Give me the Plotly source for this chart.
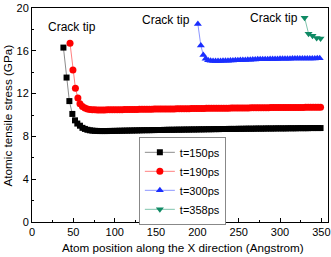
import plotly.graph_objects as go

# ---- data ----
x150 = [38, 41.8, 45.2, 48.8, 52, 54.8, 58, 61, 64, 67, 70, 73,
        76, 79, 82, 85, 88, 91, 94, 97, 100,
        103, 106, 109, 112, 115, 118, 121, 124, 127, 130, 133, 136, 139, 142, 145, 148, 151,
        154, 157, 160, 163, 166, 169, 172, 175, 178, 181, 184, 187, 190, 193, 196, 199,
        202, 205, 208, 211, 214, 217, 220, 223, 226, 229, 232, 235, 238, 241, 244, 247,
        250, 253, 256, 259, 262, 265, 268, 271, 274, 277, 280, 283, 286, 289, 292, 295, 298, 301,
        304, 307, 310, 313, 316, 319, 322, 325, 328, 331, 334, 337, 340, 343, 346, 349]
y150 = [16.3, 13.5, 11.3, 10.1, 9.5, 9.2, 9.0, 8.8, 8.7, 8.62, 8.57, 8.54,
        8.52, 8.51, 8.5, 8.5, 8.5, 8.5, 8.51, 8.51, 8.52,
        8.52, 8.53, 8.53, 8.54, 8.54, 8.55, 8.55, 8.56, 8.56, 8.57, 8.57, 8.58, 8.58, 8.58, 8.59, 8.59, 8.6,
        8.6, 8.6, 8.61, 8.61, 8.62, 8.62, 8.62, 8.63, 8.63, 8.63, 8.64, 8.64, 8.64, 8.65, 8.65, 8.65,
        8.66, 8.66, 8.66, 8.67, 8.67, 8.67, 8.68, 8.68, 8.68, 8.69, 8.69, 8.69, 8.7, 8.7, 8.7, 8.7,
        8.71, 8.71, 8.71, 8.72, 8.72, 8.72, 8.72, 8.73, 8.73, 8.73, 8.73, 8.74, 8.74, 8.74, 8.74, 8.75, 8.75, 8.75,
        8.75, 8.75, 8.76, 8.76, 8.76, 8.76, 8.77, 8.77, 8.77, 8.77, 8.77, 8.78, 8.78, 8.78, 8.78, 8.78]

x190 = [46, 49.5, 52.5, 55.5, 58, 61, 64, 67, 70, 73,
        76, 79, 82, 85, 88, 91, 94, 97, 100,
        103, 106, 109, 112, 115, 118, 121, 124, 127, 130, 133, 136, 139, 142, 145, 148, 151,
        154, 157, 160, 163, 166, 169, 172, 175, 178, 181, 184, 187, 190, 193, 196, 199,
        202, 205, 208, 211, 214, 217, 220, 223, 226, 229, 232, 235, 238, 241, 244, 247,
        250, 253, 256, 259, 262, 265, 268, 271, 274, 277, 280, 283, 286, 289, 292, 295, 298, 301,
        304, 307, 310, 313, 316, 319, 322, 325, 328, 331, 334, 337, 340, 343, 346, 349]
y190 = [16.7, 14.2, 12.5, 11.6, 11.05, 10.8, 10.65, 10.57, 10.52, 10.5,
        10.48, 10.47, 10.47, 10.47, 10.47, 10.48, 10.48, 10.49, 10.49,
        10.5, 10.5, 10.5, 10.51, 10.51, 10.51, 10.52, 10.52, 10.52, 10.53, 10.53, 10.53, 10.54, 10.54, 10.54, 10.55, 10.55,
        10.55, 10.56, 10.56, 10.56, 10.57, 10.57, 10.57, 10.58, 10.58, 10.58, 10.59, 10.59, 10.59, 10.6, 10.6, 10.6,
        10.61, 10.61, 10.61, 10.62, 10.62, 10.62, 10.63, 10.63, 10.63, 10.64, 10.64, 10.64, 10.64, 10.65, 10.65, 10.65,
        10.65, 10.66, 10.66, 10.66, 10.66, 10.67, 10.67, 10.67, 10.67, 10.68, 10.68, 10.68, 10.68, 10.69, 10.69, 10.69, 10.69, 10.7,
        10.7, 10.7, 10.7, 10.7, 10.71, 10.71, 10.71, 10.71, 10.71, 10.72, 10.72, 10.72, 10.72, 10.72, 10.72, 10.72]

x300 = [200.6, 204.2, 207.2, 210,
        213, 216, 219, 222, 225, 228, 231, 234, 237, 240, 243,
        246, 249, 252, 255, 258, 261, 264, 267, 270, 273, 276, 279, 282, 285, 288, 291, 294,
        297, 300, 303, 306, 309, 312, 315, 318, 321, 324, 327, 330, 333, 336, 339, 342, 345, 348]
y300 = [18.5, 16.5, 15.6, 15.25,
        15.12, 15.07, 15.05, 15.04, 15.04, 15.05, 15.06, 15.07, 15.08, 15.09, 15.1,
        15.11, 15.12, 15.13, 15.14, 15.15, 15.16, 15.17, 15.18, 15.19, 15.2, 15.2, 15.21, 15.22, 15.22, 15.23, 15.23, 15.24,
        15.24, 15.25, 15.25, 15.26, 15.26, 15.26, 15.27, 15.27, 15.27, 15.28, 15.28, 15.28, 15.28, 15.29, 15.29, 15.29, 15.3, 15.3]

x358 = [329.7, 334.5, 339.3, 344.3, 349]
y358 = [19.1, 17.6, 17.4, 17.2, 17.15]

series_names = ["t=150ps", "t=190ps", "t=300ps", "t=358ps"]
annot_text = "Crack tip"
annot_x = [48.4, 162.3, 292.7]
annot_y = [18.2, 18.85, 19.05]
x_ticks = [0, 50, 100, 150, 200, 250, 300, 350]
x_minor = [25, 75, 125, 175, 225, 275, 325]
y_ticks = [0, 4, 8, 12, 16, 20]
y_minor = [2, 6, 10, 14, 18]
x_title = "Atom position along the X direction (Angstrom)"
y_title = "Atomic tensile stress (GPa)"

FONT = "Liberation Sans, Arial, sans-serif"

styles = [
    dict(symbol="square", color="#000000", line="#8c8c8c", size=6),
    dict(symbol="circle", color="#ff0000", line="#ff8080", size=7),
    dict(symbol="triangle-up", color="#1a2eff", line="#8c96ff", size=7),
    dict(symbol="triangle-down", color="#0f8a64", line="#80c4ad", size=7),
]

fig = go.Figure()
for name, xs, ys, st in zip(series_names, [x150, x190, x300, x358], [y150, y190, y300, y358], styles):
    fig.add_trace(go.Scatter(
        x=xs, y=ys, name=name, mode="lines+markers",
        line=dict(color=st["line"], width=1),
        marker=dict(symbol=st["symbol"], color=st["color"], size=st["size"], line=dict(width=0)),
    ))

for ax, ay in zip(annot_x, annot_y):
    fig.add_annotation(x=ax, y=ay, text=annot_text, showarrow=False,
                       font=dict(family=FONT, size=12, color="#000"))

# axis titles
fig.add_annotation(xref="paper", yref="paper", x=0.51, y=-0.12, text=x_title, showarrow=False,
                   xanchor="center", yanchor="middle", font=dict(family=FONT, size=11.7, color="#000"))
fig.add_annotation(xref="paper", yref="paper", x=-0.083, y=0.5, text=y_title, showarrow=False,
                   textangle=-90, xanchor="center", yanchor="middle",
                   font=dict(family=FONT, size=11.7, color="#000"))

axis_common = dict(showline=True, linecolor="#000", linewidth=1, mirror=True, automargin=False,
                   ticks="inside", ticklen=4, tickcolor="#000", showgrid=False, zeroline=False,
                   tickfont=dict(family=FONT, size=11, color="#000"))

fig.update_xaxes(range=[0, 358], tickvals=x_ticks,
                 minor=dict(tickvals=x_minor, ticks="inside", ticklen=2, tickcolor="#000"),
                 **axis_common)
fig.update_yaxes(range=[0, 20], tickvals=y_ticks,
                 minor=dict(tickvals=y_minor, ticks="inside", ticklen=2, tickcolor="#000"),
                 **axis_common)

fig.update_layout(
    width=331, height=257,
    margin=dict(l=32, r=3, t=8, b=35),
    paper_bgcolor="white", plot_bgcolor="white",
    font=dict(family=FONT, size=11, color="#000"),
    showlegend=True,
    legend=dict(x=0.361, y=0.398, xanchor="left", yanchor="top",
                bordercolor="#888", borderwidth=1, bgcolor="white",
                font=dict(family=FONT, size=11), itemwidth=30,
                tracegroupgap=0),
)

fig.write_html("out.html", config={"displayModeBar": False},
               post_script="document.body.style.margin='0';document.body.style.overflow='hidden';")
